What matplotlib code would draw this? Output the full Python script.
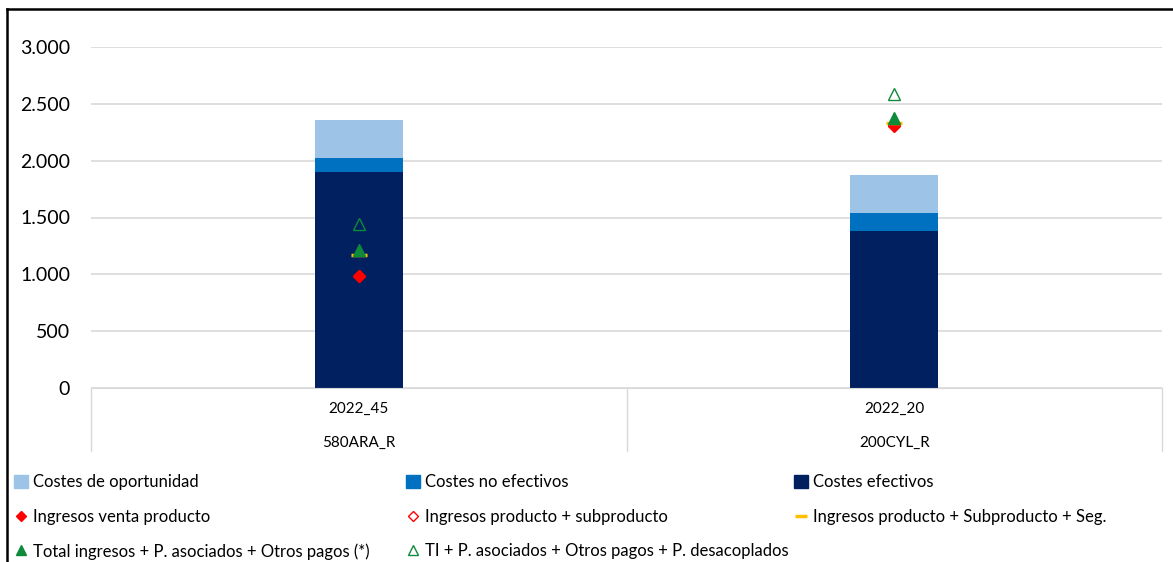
import matplotlib.pyplot as plt
import matplotlib.ticker as mticker
from matplotlib.lines import Line2D
from matplotlib.patches import Patch
import numpy as np

plt.rcParams['font.family'] = ['Lato', 'DejaVu Sans']

etiquetas = ["2022_45", "2022_20"]
grupos = ["580ARA_R", "200CYL_R"]

costes_efectivos = [1900, 1380]
costes_no_efectivos = [123, 158]
costes_oportunidad = [335, 335]

ingresos_venta = [985, 2310]
ingresos_prod_sub = [985, 2305]
ingresos_prod_sub_seg = [1170, 2330]
total_ingresos = [1215, 2375]
ti_desacoplados = [1445, 2590]

c_oport = "#9DC3E6"
c_noef = "#0070C0"
c_ef = "#002060"
c_rojo = "#FF0000"
c_amar = "#FFC000"
c_verde = "#0E8A3A"

fig = plt.figure(figsize=(11.73, 5.62), dpi=100)
ax = fig.add_axes([91 / 1173, 1 - 388 / 562, (1162 - 91) / 1173, (388 - 47) / 562])

x = np.arange(len(etiquetas))
w = 0.165
ax.bar(x, costes_efectivos, w, color=c_ef, zorder=2)
ax.bar(x, costes_no_efectivos, w, bottom=costes_efectivos, color=c_noef, zorder=2)
base2 = np.array(costes_efectivos) + np.array(costes_no_efectivos)
ax.bar(x, costes_oportunidad, w, bottom=base2, color=c_oport, zorder=2)

ax.plot(x, ingresos_prod_sub, ls="none", marker="D", ms=6, mfc="white", mec=c_rojo, mew=1, zorder=3)
ax.plot(x, ingresos_venta, ls="none", marker="D", ms=6, color=c_rojo, zorder=4)
ax.plot(x, ingresos_prod_sub_seg, ls="none", marker="_", ms=11, mew=2.5, color=c_amar, zorder=5)
ax.plot(x, total_ingresos, ls="none", marker="^", ms=8, color=c_verde, zorder=6)
ax.plot(x, ti_desacoplados, ls="none", marker="^", ms=8, mfc="none", mec=c_verde, mew=1, zorder=6)

ax.set_xlim(-0.5, 1.5)
ax.set_ylim(0, 3000)
ax.yaxis.set_major_locator(mticker.MultipleLocator(500))
ax.yaxis.set_major_formatter(mticker.FuncFormatter(lambda v, p: f"{int(v):,}".replace(",", ".")))
ax.grid(axis="y", color="#D9D9D9", lw=1.2, zorder=0)
ax.tick_params(axis="y", length=0, labelsize=14, pad=15)
ax.set_xticks([])
for s in ["top", "right", "left"]:
    ax.spines[s].set_visible(False)
ax.spines["bottom"].set_color("#D9D9D9")

# caja de categorias de dos niveles
box_h = (451 - 388) / (388 - 47)
for xv in [-0.5, 0.5, 1.5]:
    ax.plot([xv, xv], [0, -box_h], transform=ax.get_xaxis_transform(), color="#D9D9D9", lw=1, clip_on=False)
for i in range(len(etiquetas)):
    ax.text(x[i], -(409 - 388) / (388 - 47), etiquetas[i], transform=ax.get_xaxis_transform(),
            ha="center", va="center", fontsize=11)
    ax.text(x[i], -(443 - 388) / (388 - 47), grupos[i], transform=ax.get_xaxis_transform(),
            ha="center", va="center", fontsize=11)

# borde del grafico
fig.add_artist(Line2D([7 / 1173, 7 / 1173], [0, 1 - 9 / 562], color="black", lw=1.8))
fig.add_artist(Line2D([7 / 1173, 1], [1 - 9 / 562, 1 - 9 / 562], color="black", lw=1.8))

col1 = [Patch(color=c_oport, label="Costes de oportunidad"),
        Line2D([], [], ls="none", marker="D", ms=5, color=c_rojo, label="Ingresos venta producto"),
        Line2D([], [], ls="none", marker="^", ms=6.5, color=c_verde, label="Total ingresos + P. asociados + Otros pagos (*)")]
col2 = [Patch(color=c_noef, label="Costes no efectivos"),
        Line2D([], [], ls="none", marker="D", ms=5, mfc="white", mec=c_rojo, label="Ingresos producto + subproducto"),
        Line2D([], [], ls="none", marker="^", ms=6.5, mfc="none", mec=c_verde, label="TI + P. asociados + Otros pagos + P. desacoplados")]
col3 = [Patch(color=c_ef, label="Costes efectivos"),
        Line2D([], [], ls="none", marker="_", ms=8, mew=2.5, color=c_amar, label="Ingresos producto + Subproducto + Seg.")]

for hs, xl in [(col1, 6), (col2, 398), (col3, 786)]:
    fig.legend(handles=hs, loc="upper left", bbox_to_anchor=(xl / 1173, 1 - 466 / 562),
               frameon=False, fontsize=12, handlelength=0.8, handleheight=0.8,
               handletextpad=0.3, labelspacing=1.1, borderpad=0)

fig.savefig("out.png", dpi=100)
